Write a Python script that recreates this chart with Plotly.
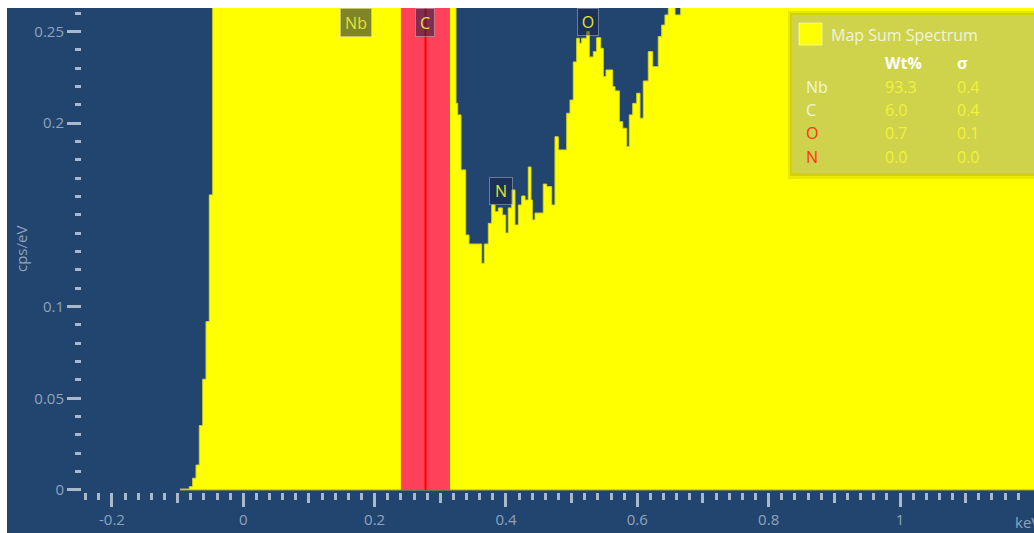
import plotly.graph_objects as go

# ---------------------------------------------------------------------------
# Spectrum: start energy of each step (keV) and its height (cps/eV).
# Steps that run off the top of the view carry their full height.
# ---------------------------------------------------------------------------
ENERGY_KEV = [
    -0.0964, -0.0822, -0.0771, -0.0720, -0.0670, -0.0618, -0.0568, -0.0518,
    -0.0466, 0.0000, 0.1000, 0.1500, 0.2000, 0.2500, 0.3000,
    0.3239, 0.3265, 0.3315, 0.3387, 0.3437, 0.3630, 0.3670, 0.3731,
    0.3783, 0.3833, 0.3883, 0.3944, 0.3996, 0.4035, 0.4087, 0.4137,
    0.4188, 0.4239, 0.4290, 0.4340, 0.4381, 0.4401, 0.4442, 0.4568,
    0.4620, 0.4696, 0.4746, 0.4797, 0.4925, 0.4975, 0.5025, 0.5077,
    0.5117, 0.5153, 0.5229, 0.5269, 0.5330, 0.5381, 0.5442, 0.5482,
    0.5523, 0.5625, 0.5660, 0.5726, 0.5777, 0.5838, 0.5878, 0.5930,
    0.5991, 0.6041, 0.6091, 0.6167, 0.6234, 0.6319, 0.6371, 0.6421,
    0.6472, 0.6574, 0.6661, 0.7500, 0.9000, 1.0500,
]
CPS_PER_EV = [
    0.0005, 0.0018, 0.0064, 0.0136, 0.0351, 0.0604, 0.0918, 0.1609,
    0.3000, 0.4200, 0.8500, 1.6000, 1.1000, 0.5500, 0.3200,
    0.2108, 0.2045, 0.1745, 0.1390, 0.1341, 0.1236, 0.1341, 0.1454,
    0.1554, 0.1517, 0.1538, 0.1499, 0.1401, 0.1538, 0.1636, 0.1445,
    0.1554, 0.1603, 0.1581, 0.1761, 0.1581, 0.1472, 0.1510, 0.1668,
    0.1654, 0.1554, 0.1926, 0.1854, 0.2054, 0.2126, 0.2334, 0.2463,
    0.2436, 0.2463, 0.2500, 0.2361, 0.2390, 0.2466, 0.2408, 0.2254,
    0.2290, 0.2199, 0.2176, 0.2008, 0.1972, 0.1872, 0.2045, 0.2108,
    0.2163, 0.2027, 0.2230, 0.2390, 0.2308, 0.2472, 0.2535, 0.2590,
    0.2700, 0.2590, 0.2800, 0.3100, 0.3300, 0.3400,
]
SPECTRUM_END_KEV = 1.25

# Element line markers
ELEMENT_NAMES = ["Nb", "C", "N", "O"]
ELEMENT_LINE_KEV = [0.172, 0.277, 0.392, 0.525]

# Carbon region of interest
ROI_START_KEV = 0.2399
ROI_END_KEV = 0.3147
ROI_LINE_KEV = 0.2775

# Quantification table
TABLE_TITLE = "Map Sum Spectrum"
TABLE_ELEMENTS = ["Nb", "C", "O", "N"]
TABLE_WT = ["93.3", "6.0", "0.7", "0.0"]
TABLE_SIGMA = ["0.4", "0.4", "0.1", "0.0"]

# Axis ticks
X_TICK_VALS = [-0.2, 0.0, 0.2, 0.4, 0.6, 0.8, 1.0]
X_TICK_TEXT = ["-0.2", "0", "0.2", "0.4", "0.6", "0.8", "1"]
X_MID_TICK_VALS = [-0.1, 0.1, 0.3, 0.5, 0.7, 0.9, 1.1]
Y_TICK_VALS = [0.0, 0.05, 0.10, 0.15, 0.20, 0.25]
Y_TICK_TEXT = ["0", "0.05", "0.1", "", "0.2", "0.25"]

# ---------------------------------------------------------------------------
# Page geometry and styling
# ---------------------------------------------------------------------------
W, H = 1034, 533
ML, MR, MT, MB = 82, 0, 8, 41
X_RANGE = [-0.24563, 1.20405]
Y_RANGE = [-0.0011, 0.2628]

PANEL = "#224570"
TICK = "#a9b9cc"
LABEL = "#8fa3bb"
YELLOW = "#ffff00"
FONT = "Open Sans"


def px(x):
    return (x - ML) / (W - ML - MR)


def py(y):
    return (H - MB - y) / (H - MT - MB)


fig = go.Figure()

fig.add_trace(go.Scatter(
    x=ENERGY_KEV + [SPECTRUM_END_KEV],
    y=CPS_PER_EV + [CPS_PER_EV[-1]],
    mode="lines",
    line=dict(shape="hv", color="#d6d61c", width=1),
    fill="tozeroy",
    fillcolor=YELLOW,
    hoverinfo="skip",
    showlegend=False,
))
# empty trace that carries the secondary tick axis
fig.add_trace(go.Scatter(x=[], y=[], xaxis="x2", showlegend=False, hoverinfo="skip"))

shapes = [
    # dark panel behind the whole chart
    dict(type="rect", xref="paper", yref="paper",
         x0=px(7), x1=px(W + 2), y0=py(H + 2), y1=py(8),
         fillcolor=PANEL, line=dict(width=0), layer="below"),
    # baseline under the spectrum
    dict(type="line", xref="x", yref="y",
         x0=ENERGY_KEV[0], x1=SPECTRUM_END_KEV, y0=0, y1=0,
         line=dict(color="#a3a33a", width=1.2), layer="above"),
    # carbon ROI band and its centre line
    dict(type="rect", xref="x", yref="y",
         x0=ROI_START_KEV, x1=ROI_END_KEV, y0=0, y1=Y_RANGE[1],
         fillcolor="#ff4259", line=dict(width=0), layer="above"),
    dict(type="line", xref="x", yref="y",
         x0=ROI_LINE_KEV, x1=ROI_LINE_KEV, y0=0, y1=Y_RANGE[1],
         line=dict(color="#ff0000", width=2), layer="above"),
    # table panel with soft shadow
    dict(type="rect", xref="paper", yref="paper",
         x0=px(788), x1=px(W + 5), y0=py(179), y1=py(11),
         fillcolor="rgba(110,110,0,0.16)", line=dict(width=0), layer="above"),
    dict(type="rect", xref="paper", yref="paper",
         x0=px(790), x1=px(W + 5), y0=py(176), y1=py(13),
         fillcolor="rgba(110,110,0,0.18)", line=dict(width=0), layer="above"),
    dict(type="rect", xref="paper", yref="paper",
         x0=px(792), x1=px(W + 5), y0=py(173), y1=py(15),
         fillcolor="#ced34b", line=dict(width=0), layer="above"),
    # series swatch
    dict(type="rect", xref="paper", yref="paper",
         x0=px(799), x1=px(822), y0=py(45), y1=py(23),
         fillcolor=YELLOW, line=dict(color="rgba(255,255,190,0.7)", width=1),
         layer="above"),
]

annotations = []

# element markers: box size and vertical centre in pixels
marker_boxes = {"Nb": (30, 27, 22.5), "C": (18, 27, 22.5),
                "N": (22, 26, 191), "O": (20, 26, 22.5)}
for name, kev in zip(ELEMENT_NAMES, ELEMENT_LINE_KEV):
    bw, bh, yc = marker_boxes[name]
    annotations.append(dict(
        x=kev, xref="x", y=py(yc), yref="paper",
        text=name, showarrow=False, xanchor="center", yanchor="middle",
        width=bw, height=bh, borderpad=0, borderwidth=1,
        bgcolor="rgba(22,32,68,0.55)", bordercolor="rgba(200,205,215,0.45)",
        font=dict(family=FONT, size=16, color="#e2e23a"),
    ))

# table text
annotations.append(dict(
    x=px(829), y=py(35), xref="paper", yref="paper", text=TABLE_TITLE,
    showarrow=False, xanchor="left", yanchor="middle",
    font=dict(family=FONT, size=16, color="#f3f3dc"),
))
for text, xpix in (("Wt%", 883), ("σ", 955)):
    annotations.append(dict(
        x=px(xpix), y=py(63), xref="paper", yref="paper", text=f"<b>{text}</b>",
        showarrow=False, xanchor="left", yanchor="middle",
        font=dict(family=FONT, size=16, color="#ffffff"),
    ))
row_y = [86.7, 110, 133.3, 156.7]
for el, wt, sg, ypix in zip(TABLE_ELEMENTS, TABLE_WT, TABLE_SIGMA, row_y):
    el_color = "#ff3412" if el in ("O", "N") else "#f3f3dc"
    for text, xpix, color in ((el, 804, el_color), (wt, 883, "#f2f23a"), (sg, 955, "#f2f23a")):
        annotations.append(dict(
            x=px(xpix), y=py(ypix), xref="paper", yref="paper", text=text,
            showarrow=False, xanchor="left", yanchor="middle",
            font=dict(family=FONT, size=16, color=color),
        ))

# axis titles
annotations.append(dict(
    x=px(21), y=py(249), xref="paper", yref="paper", text="cps/eV",
    textangle=-90, showarrow=False, xanchor="center", yanchor="middle",
    font=dict(family=FONT, size=15, color=LABEL),
))
annotations.append(dict(
    x=px(1013), y=py(522), xref="paper", yref="paper", text="keV",
    showarrow=False, xanchor="left", yanchor="middle",
    font=dict(family=FONT, size=15, color=LABEL),
))

x_minor = [round(-0.24 + 0.02 * k, 2) for k in range(72)]
y_minor = [round(0.01 * k, 2) for k in range(27)]

fig.update_layout(
    width=W, height=H,
    margin=dict(l=ML, r=MR, t=MT, b=MB, pad=0),
    paper_bgcolor="#ffffff",
    plot_bgcolor="rgba(0,0,0,0)",
    showlegend=False,
    shapes=shapes,
    annotations=annotations,
    xaxis=dict(
        range=X_RANGE, showgrid=False, zeroline=False, showline=False,
        tickmode="array", tickvals=X_TICK_VALS, ticktext=X_TICK_TEXT,
        ticks="outside", ticklen=14, tickwidth=2.5, tickcolor=TICK,
        tickfont=dict(family=FONT, size=15, color=LABEL),
        minor=dict(tickmode="array", tickvals=x_minor, ticks="outside",
                   ticklen=6.5, tickwidth=2.5, tickcolor=TICK, showgrid=False),
        fixedrange=True,
    ),
    xaxis2=dict(
        range=X_RANGE, overlaying="x", anchor="y", side="bottom",
        showgrid=False, zeroline=False, showline=False, showticklabels=False,
        tickmode="array", tickvals=X_MID_TICK_VALS,
        ticks="outside", ticklen=10, tickwidth=2.5, tickcolor=TICK,
        fixedrange=True,
    ),
    yaxis=dict(
        range=Y_RANGE, showgrid=False, zeroline=False, showline=False,
        tickmode="array", tickvals=Y_TICK_VALS, ticktext=Y_TICK_TEXT,
        ticks="outside", ticklen=14, tickwidth=2.5, tickcolor=TICK,
        tickfont=dict(family=FONT, size=15, color=LABEL),
        minor=dict(tickmode="array", tickvals=y_minor, ticks="outside",
                   ticklen=6, tickwidth=2.5, tickcolor=TICK, showgrid=False),
        fixedrange=True,
    ),
)

fig.write_html("out.html")
